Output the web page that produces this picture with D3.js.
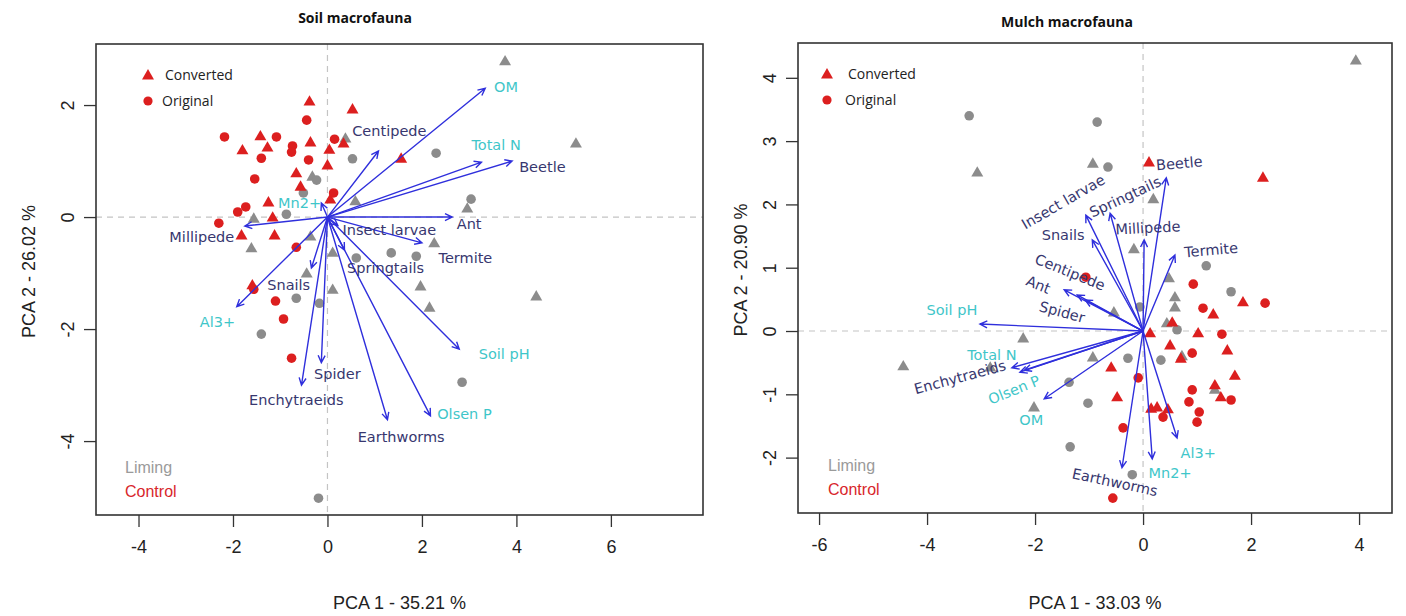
<!DOCTYPE html>
<meta charset="utf-8">
<head>
<script src="https://d3js.org/d3.v7.min.js"></script>
<style>
  body { margin: 0; background: #fff; }
  .tick text { font-family: "Liberation Sans", Arial, sans-serif; font-size: 18px; fill: #222; }
  .tick line { stroke: #333; stroke-width: 1.3px; }
</style>
</head>
<body>
<svg id="chart" width="1406" height="616"></svg>
<script>
// ---- Soil macrofauna (left) ----
var soilConvControl = [[-0.38,2.07],[0.53,1.93],[-1.42,1.45],[-0.36,1.34],[0.34,1.32],[-1.80,1.20],[-1.27,1.25],
  [0.04,1.21],[0.0,0.93],[-0.66,0.79],[-0.57,0.55],[0.06,0.32],[-1.25,0.27],[-1.16,0.0],[-1.82,-0.32],
  [-1.12,-0.32],[-1.59,-1.21],[1.56,1.05]];
var soilOrigControl = [[-0.44,1.73],[-2.18,1.43],[-1.08,1.43],[0.15,1.39],[-0.74,1.27],[-0.76,1.16],[-1.40,1.05],
  [-0.40,1.02],[-1.54,0.68],[0.13,0.43],[-1.73,0.18],[-1.90,0.09],[-2.30,-0.11],[-0.66,-0.54],[-1.56,-1.29],
  [-1.10,-1.50],[-0.93,-1.82],[-0.76,-2.52]];
var soilConvLiming = [[3.76,2.79],[0.38,1.41],[-0.32,0.73],[-1.56,-0.02],[-1.61,-0.55],[-0.44,-1.0],[-0.36,-0.34],
  [0.59,0.29],[2.96,0.16],[2.26,-0.46],[0.11,-0.63],[1.97,-1.23],[2.16,-1.61],[0.11,-1.29],[4.42,-1.41],[5.26,1.32]];
var soilOrigLiming = [[-0.23,0.66],[-0.51,0.43],[-0.87,0.05],[0.53,1.04],[2.30,1.14],[3.04,0.32],[1.35,-0.64],
  [0.61,-0.73],[1.88,-0.70],[-0.66,-1.45],[-1.40,-2.09],[-0.17,-1.54],[2.85,-2.95],[-0.19,-5.02]];

var soilVarNames = ["OM","Centipede","Total N","Beetle","Ant","Insect larvae","Termite","Springtails","Soil pH",
  "Olsen P","Earthworms","Spider","Enchytraeids","Al3+","Snails","Millipede","Mn2+"];
var soilVarEnv   = [1,0,1,0,0,0,0,0,1,1,0,0,0,1,0,0,1];
var soilVarX     = [3.34,1.08,3.26,3.91,2.64,0.22,2.00,0.36,2.79,2.18,1.27,-0.13,-0.55,-1.92,-0.34,-1.75,-0.13];
var soilVarY     = [2.30,1.18,0.98,1.00,0.00,-0.15,-0.46,-0.59,-2.36,-3.55,-3.62,-2.60,-3.00,-1.60,-0.91,-0.16,0.25];
var soilLabelX   = [3.78,1.31,3.57,4.55,3.00,1.31,2.92,1.23,3.74,2.90,1.56,0.21,-0.66,-2.33,-0.82,-2.66,-0.59];
var soilLabelY   = [2.32,1.54,1.29,0.89,-0.13,-0.23,-0.73,-0.91,-2.45,-3.52,-3.93,-2.80,-3.27,-1.88,-1.21,-0.36,0.25];
var soilLabelRot = [0,0,0,0,0,0,0,0,0,0,0,0,0,0,0,0,0];

// ---- Mulch macrofauna (right) ----
var mulchConvControl = [[0.11,2.67],[2.22,2.43],[1.85,0.46],[1.30,0.27],[0.54,0.14],[0.13,-0.03],[1.02,-0.03],
  [0.50,-0.22],[1.56,-0.30],[0.70,-0.43],[-0.59,-0.57],[1.70,-0.70],[1.33,-0.85],[1.44,-1.04],[-0.48,-1.04],
  [0.15,-1.22],[0.26,-1.20],[0.46,-1.23]];
var mulchOrigControl = [[-1.06,0.85],[0.93,0.74],[1.11,0.36],[2.26,0.44],[1.46,-0.05],[0.91,-0.35],[-0.09,-0.74],
  [0.91,-0.93],[0.85,-1.12],[1.63,-1.09],[1.04,-1.28],[1.00,-1.44],[0.37,-1.36],[-0.37,-1.53],[-0.56,-2.64]];
var mulchConvLiming = [[3.94,4.28],[-3.07,2.51],[-0.93,2.65],[0.19,2.09],[-0.17,1.30],[0.48,0.84],[0.59,0.54],
  [0.59,0.38],[0.44,0.13],[-0.54,0.30],[-2.22,-0.11],[-0.93,-0.41],[0.72,-0.39],[-2.02,-1.20],[-2.83,-0.57],
  [-4.44,-0.55],[1.33,-0.92]];
var mulchOrigLiming = [[-3.22,3.40],[-0.85,3.30],[-0.65,2.59],[1.17,1.03],[1.63,0.62],[-0.06,0.38],[0.63,0.02],
  [-0.28,-0.43],[0.33,-0.46],[-1.37,-0.81],[-1.02,-1.14],[-1.35,-1.83],[-0.20,-2.27]];

var mulchVarNames = ["Beetle","Springtails","Insect larvae","Millipede","Termite","Snails","Centipede","Ant","Spider",
  "Soil pH","Total N","Enchytraeids","Olsen P","OM","Earthworms","Mn2+","Al3+"];
var mulchVarEnv   = [0,0,0,0,0,0,0,0,0,1,1,0,1,1,0,1,1];
var mulchVarX     = [0.43,-0.61,-1.06,0.02,0.59,-0.94,-1.22,-1.46,-1.07,-3.02,-2.43,-2.28,-2.20,-1.83,-0.39,0.17,0.63];
var mulchVarY     = [2.42,1.86,1.83,1.44,1.20,1.44,0.57,0.65,0.49,0.11,-0.58,-0.65,-0.62,-1.07,-2.16,-2.02,-1.69];
var mulchLabelX   = [0.67,-0.33,-1.48,0.09,1.26,-1.48,-1.35,-1.94,-1.50,-3.54,-2.80,-3.39,-2.39,-2.07,-0.52,0.50,1.02];
var mulchLabelY   = [2.65,2.12,2.04,1.63,1.28,1.52,0.93,0.73,0.30,0.33,-0.38,-0.73,-0.93,-1.41,-2.39,-2.24,-1.93];
var mulchLabelRot = [-5,-25,-30,-3,-5,0,22,22,15,0,0,-15,-22,0,12,0,0];

var svg = d3.select("#chart");

function drawPanel(p) {
  var g = svg.append("g");
  var x = d3.scaleLinear().domain(p.xDomain).range([p.left, p.right]);
  var y = d3.scaleLinear().domain(p.yDomain).range([p.bottom, p.top]);

  // dashed zero lines
  g.append("line").attr("x1", p.left).attr("x2", p.right).attr("y1", y(0)).attr("y2", y(0))
    .attr("stroke", "#c4c4c4").attr("stroke-dasharray", "6,5").attr("stroke-width", 1.2);
  g.append("line").attr("y1", p.top).attr("y2", p.bottom).attr("x1", x(0)).attr("x2", x(0))
    .attr("stroke", "#c4c4c4").attr("stroke-dasharray", "6,5").attr("stroke-width", 1.2);

  // points
  var tri = d3.symbol().type(d3.symbolTriangle).size(62);
  function pts(data, color, shape) {
    if (shape == "tri") {
      g.append("g").selectAll("path").data(data).enter().append("path")
        .attr("d", tri).attr("fill", color)
        .attr("transform", function(d) { return "translate(" + x(d[0]) + "," + (y(d[1]) + 1) + ")"; });
    } else {
      g.append("g").selectAll("circle").data(data).enter().append("circle")
        .attr("cx", function(d) { return x(d[0]); }).attr("cy", function(d) { return y(d[1]); })
        .attr("r", 4.8).attr("fill", color);
    }
  }
  pts(p.convLiming, "#8c8c8c", "tri");
  pts(p.origLiming, "#8c8c8c", "circ");
  pts(p.convControl, "#dc1f1f", "tri");
  pts(p.origControl, "#dc1f1f", "circ");

  // arrows
  var ag = g.append("g").attr("stroke", "#2f2fdc").attr("stroke-width", 1.4).attr("fill", "none");
  p.names.forEach(function(n, i) {
    var x0 = x(0), y0 = y(0), x1 = x(p.vx[i]), y1 = y(p.vy[i]);
    var ang = Math.atan2(y1 - y0, x1 - x0), L = 8, a = 0.45;
    ag.append("path").attr("d",
      "M" + x0 + "," + y0 + "L" + x1 + "," + y1 +
      "M" + (x1 - L * Math.cos(ang - a)) + "," + (y1 - L * Math.sin(ang - a)) +
      "L" + x1 + "," + y1 +
      "L" + (x1 - L * Math.cos(ang + a)) + "," + (y1 - L * Math.sin(ang + a)));
  });

  // arrow labels
  p.names.forEach(function(n, i) {
    var lx = x(p.lx[i]), ly = y(p.ly[i]);
    g.append("text").text(n)
      .attr("x", lx).attr("y", ly).attr("dy", "0.35em")
      .attr("text-anchor", "middle")
      .attr("transform", "rotate(" + p.rot[i] + "," + lx + "," + ly + ")")
      .style("font-family", "'DejaVu Sans', sans-serif").style("font-size", "14.5px")
      .attr("fill", p.env[i] ? "#3fc6c9" : "#37376f");
  });

  // box
  g.append("rect").attr("x", p.left).attr("y", p.top)
    .attr("width", p.right - p.left).attr("height", p.bottom - p.top)
    .attr("fill", "none").attr("stroke", "#333").attr("stroke-width", 1.6);

  // axes
  var xa = g.append("g").attr("transform", "translate(0," + p.bottom + ")")
    .call(d3.axisBottom(x).tickValues(p.xTicks).tickSize(12).tickPadding(13).tickFormat(d3.format("d")));
  xa.select(".domain").remove();
  var ya = g.append("g").attr("transform", "translate(" + p.left + ",0)")
    .call(d3.axisLeft(y).tickValues(p.yTicks).tickSize(12).tickFormat(d3.format("d")));
  ya.select(".domain").remove();
  ya.selectAll(".tick text").attr("x", 0).attr("y", -22).attr("dy", 0)
    .attr("text-anchor", "middle").attr("transform", "rotate(-90)");
  xa.selectAll(".tick text").text(function(d) { return d < 0 ? "-" + Math.abs(d) : d; });
  ya.selectAll(".tick text").text(function(d) { return d < 0 ? "-" + Math.abs(d) : d; });

  // titles
  svg.append("text").text(p.title).attr("x", p.titleX).attr("y", p.titleY)
    .attr("text-anchor", "middle").style("font-family", "'Open Sans', sans-serif")
    .style("font-weight", "bold").style("font-size", "14px").attr("fill", "#111");
  svg.append("text").text(p.xLabel).attr("x", (p.left + p.right) / 2 + p.xLabelShift).attr("y", 609)
    .attr("text-anchor", "middle").style("font-family", "'Liberation Sans', Arial, sans-serif")
    .style("font-size", "18px").attr("fill", "#222");
  svg.append("text").text(p.yLabel)
    .attr("transform", "translate(" + p.yLabelX + "," + ((p.top + p.bottom) / 2 - 8) + ") rotate(-90)")
    .attr("text-anchor", "middle").style("font-family", "'Liberation Sans', Arial, sans-serif")
    .style("font-size", "18px").attr("fill", "#222");

  // legends
  var lg = g.append("g").attr("transform", "translate(" + (p.left + p.legX) + "," + (p.top + 31) + ")");
  lg.append("path").attr("d", d3.symbol().type(d3.symbolTriangle).size(62)).attr("fill", "#dc1f1f")
    .attr("transform", "translate(0,1)");
  lg.append("circle").attr("cx", 0).attr("cy", 26).attr("r", 4.6).attr("fill", "#dc1f1f");
  lg.append("text").text("Converted").attr("x", p.legTextX).attr("y", 5)
    .style("font-family", "'Open Sans', sans-serif").style("font-size", "14px").attr("fill", "#222");
  lg.append("text").text("Original").attr("x", p.legTextX - 3).attr("y", 31)
    .style("font-family", "'Open Sans', sans-serif").style("font-size", "14px").attr("fill", "#222");
  g.append("text").text("Liming").attr("x", p.left + p.leg2X).attr("y", p.bottom - 42)
    .style("font-family", "'Liberation Sans', Arial, sans-serif").style("font-size", "16px").attr("fill", "#9a9a9a");
  g.append("text").text("Control").attr("x", p.left + p.leg2X).attr("y", p.bottom - 18)
    .style("font-family", "'Liberation Sans', Arial, sans-serif").style("font-size", "16px").attr("fill", "#d8262b");
}

drawPanel({
  left: 96, right: 703, top: 44, bottom: 515,
  xDomain: [-4.9, 7.95], yDomain: [-5.32, 3.09],
  xTicks: [-4, -2, 0, 2, 4, 6], yTicks: [-4, -2, 0, 2],
  convControl: soilConvControl, origControl: soilOrigControl,
  convLiming: soilConvLiming, origLiming: soilOrigLiming,
  names: soilVarNames, env: soilVarEnv, vx: soilVarX, vy: soilVarY,
  lx: soilLabelX, ly: soilLabelY, rot: soilLabelRot,
  title: "Soil macrofauna", titleX: 355, titleY: 23,
  xLabel: "PCA 1 - 35.21 %", xLabelShift: 0, yLabel: "PCA 2 - 26.02 %", yLabelX: 35,
  legX: 52, legTextX: 17, leg2X: 29
});
drawPanel({
  left: 798, right: 1392, top: 43, bottom: 513,
  xDomain: [-6.39, 4.61], yDomain: [-2.875, 4.55],
  xTicks: [-6, -4, -2, 0, 2, 4], yTicks: [-2, -1, 0, 1, 2, 3, 4],
  convControl: mulchConvControl, origControl: mulchOrigControl,
  convLiming: mulchConvLiming, origLiming: mulchOrigLiming,
  names: mulchVarNames, env: mulchVarEnv, vx: mulchVarX, vy: mulchVarY,
  lx: mulchLabelX, ly: mulchLabelY, rot: mulchLabelRot,
  title: "Mulch macrofauna", titleX: 1067, titleY: 27,
  xLabel: "PCA 1 - 33.03 %", xLabelShift: 0, yLabel: "PCA 2 - 20.90 %", yLabelX: 747,
  legX: 29, legTextX: 21, leg2X: 30
});
</script>
</body>
